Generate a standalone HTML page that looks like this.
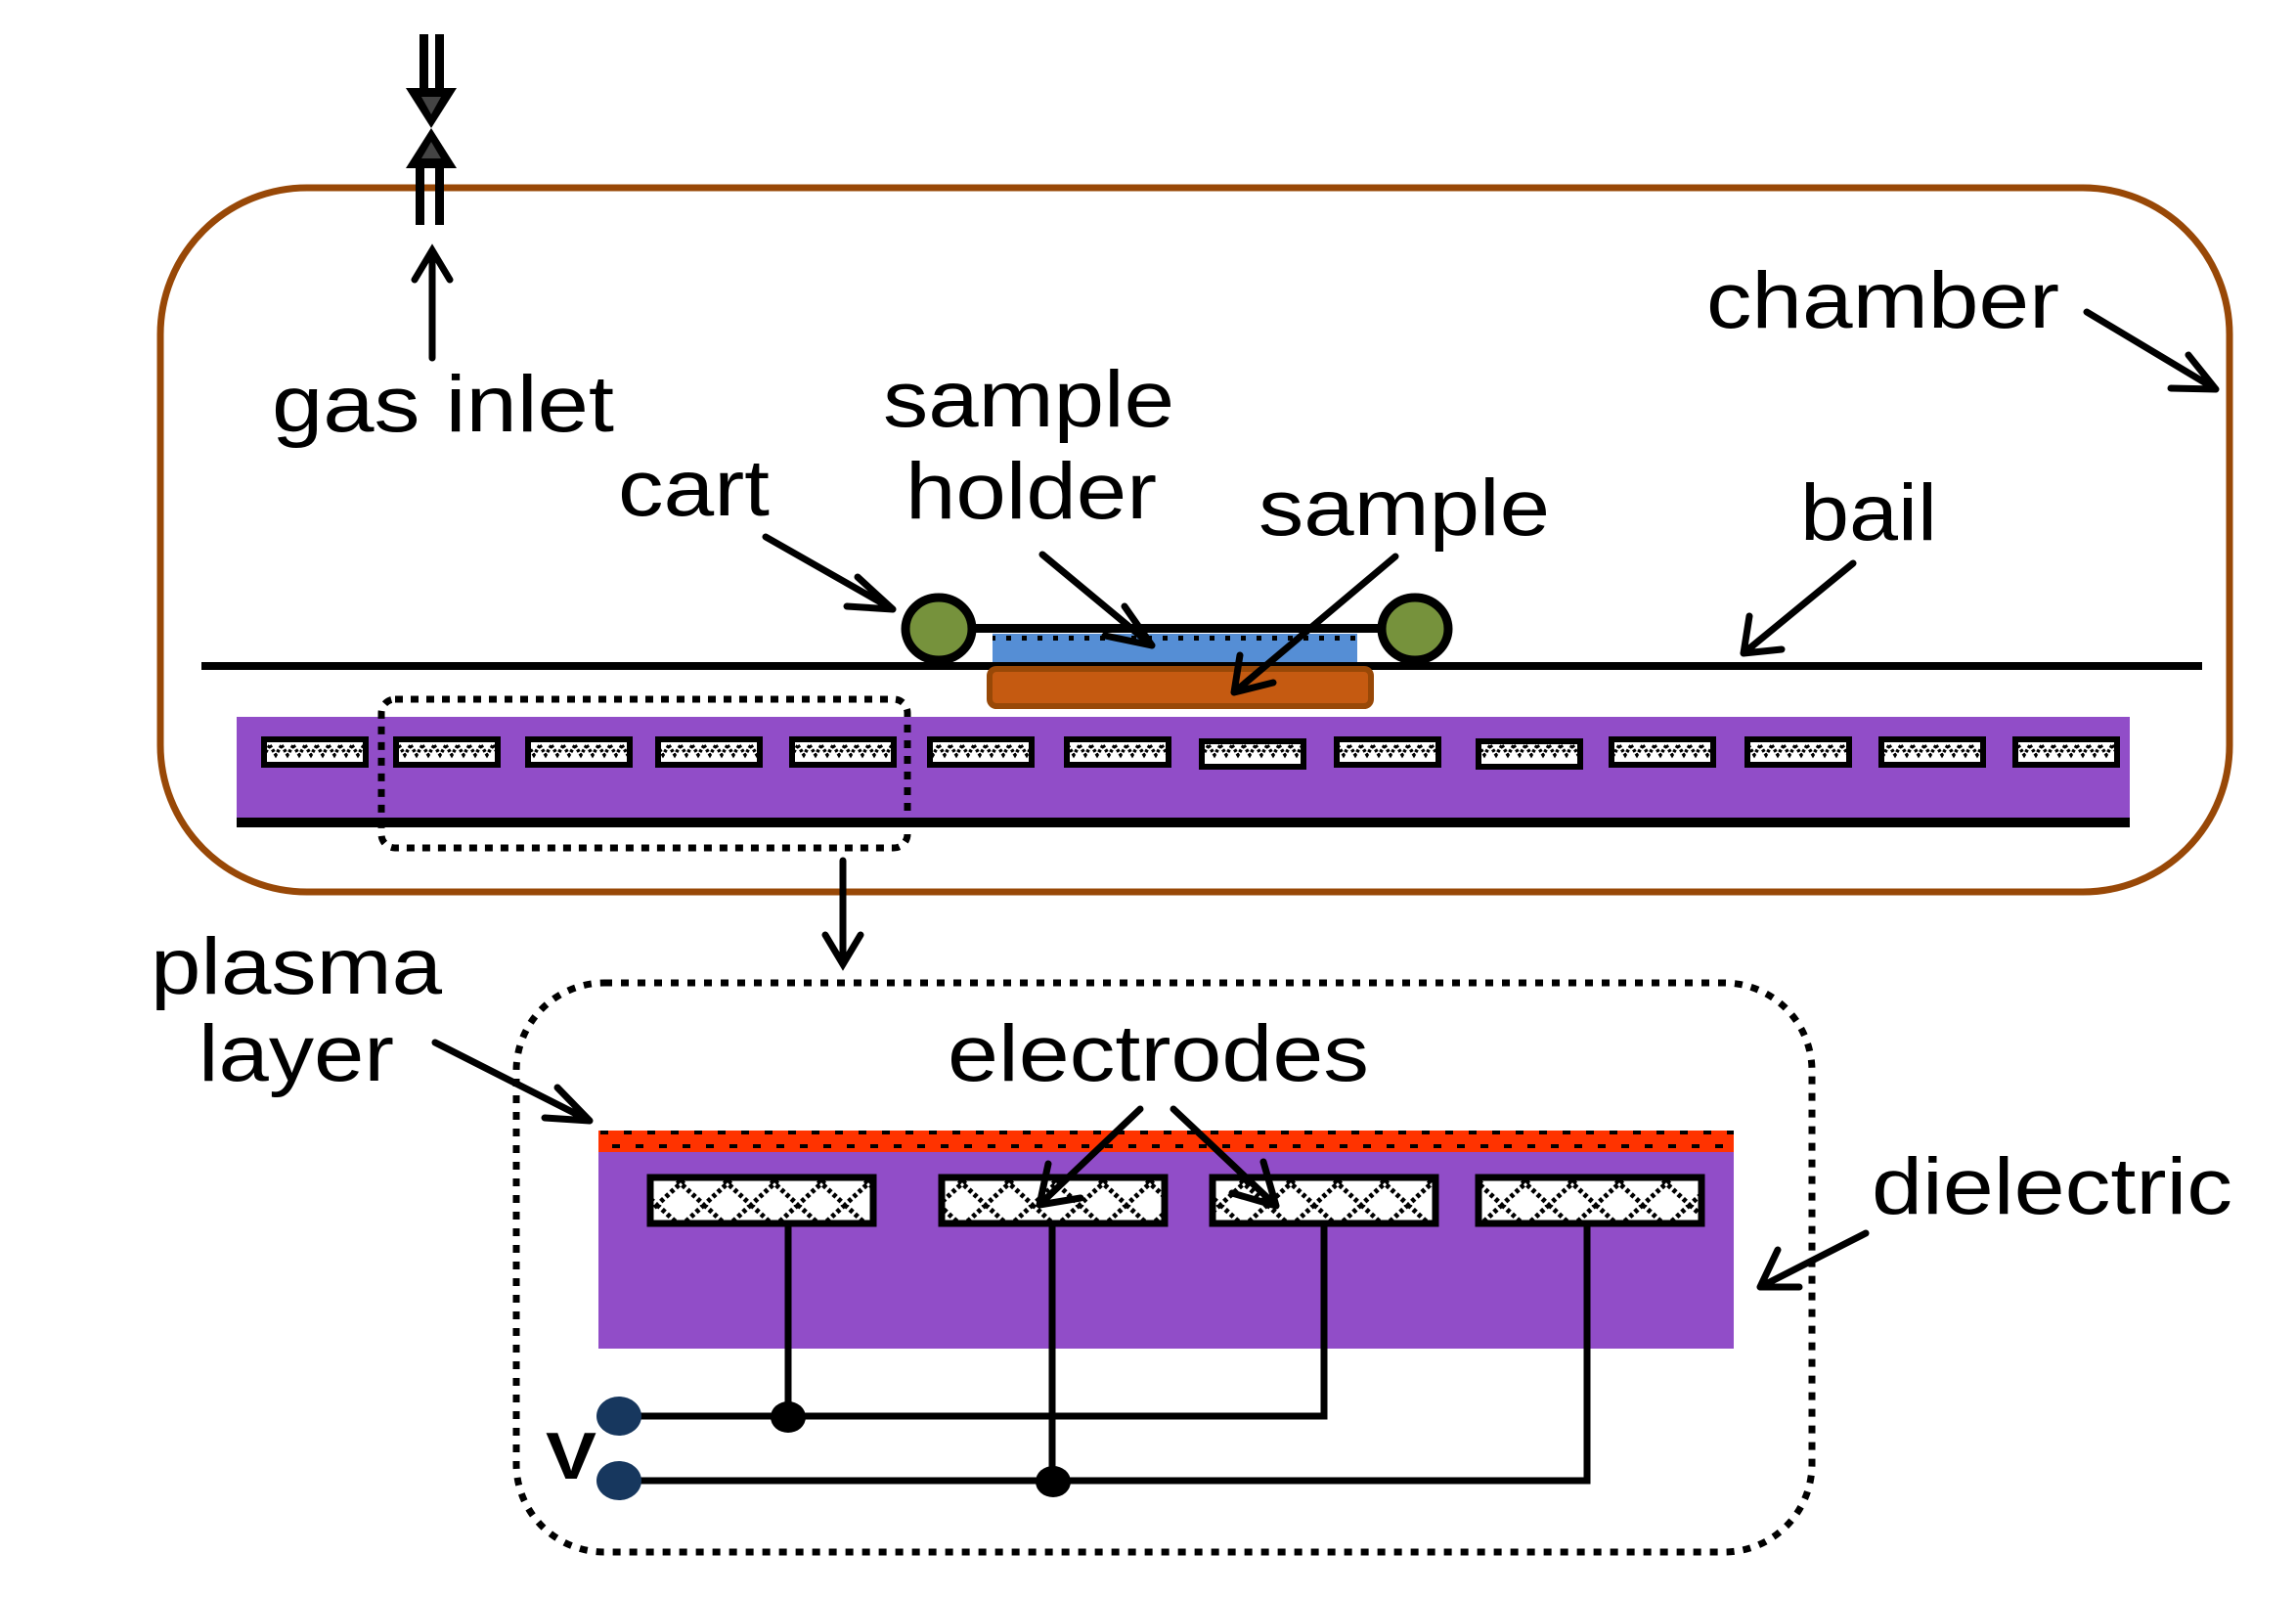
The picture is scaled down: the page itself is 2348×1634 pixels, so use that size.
<!DOCTYPE html>
<html><head><meta charset="utf-8"><style>
html,body{margin:0;padding:0;background:#fff;}
svg{display:block;}
text{font-family:"Liberation Sans",sans-serif;fill:#000;}
</style></head><body>
<svg width="2348" height="1634" viewBox="0 0 2348 1634" xmlns="http://www.w3.org/2000/svg">
<defs>
<pattern id="hs" width="24" height="20" patternUnits="userSpaceOnUse">
<rect width="24" height="20" fill="#fff"/>
<path d="M0 2 L6 12 L12 2 M12 2 L18 12 L24 2" stroke="#000" stroke-width="3.5" fill="none" stroke-dasharray="3 2"/>
</pattern>
<pattern id="hb" width="48" height="44" patternUnits="userSpaceOnUse">
<rect width="48" height="44" fill="#fff"/>
<path d="M0 0 L48 44 M48 0 L0 44" stroke="#000" stroke-width="5" fill="none" stroke-dasharray="4 3"/>
</pattern>
<pattern id="red" width="48" height="22" patternUnits="userSpaceOnUse">
<rect width="48" height="22" fill="#ff3300"/>
<rect x="2" y="4" width="8" height="4" fill="#000"/><rect x="26" y="4" width="8" height="4" fill="#000"/>
<rect x="14" y="12" width="8" height="4" fill="#000"/><rect x="38" y="12" width="8" height="4" fill="#000"/>
</pattern>
<pattern id="blu" width="16" height="29" patternUnits="userSpaceOnUse">
<rect width="16" height="29" fill="#558ed5"/>
<rect x="5" y="12" width="5" height="5" fill="#000"/>
</pattern>
</defs>

<!-- chamber -->
<rect x="164" y="192" width="2116" height="720" rx="150" ry="150" fill="none" stroke="#984807" stroke-width="7"/>

<!-- gas inlet -->
<rect x="429" y="35" width="9" height="55" fill="#000"/>
<rect x="445" y="35" width="9" height="55" fill="#000"/>
<rect x="425" y="172" width="9" height="58" fill="#000"/>
<rect x="445" y="172" width="9" height="58" fill="#000"/>
<polygon points="415,90 467,90 441,131" fill="#000"/>
<polygon points="431,99 451,99 441,117" fill="#444"/>
<polygon points="441,131 415,172 467,172" fill="#000"/>
<polygon points="441,145 431,162 451,162" fill="#444"/>

<!-- bail line -->
<rect x="206" y="677" width="2046" height="8" fill="#000"/>

<!-- cart -->
<rect x="990" y="638" width="440" height="9" fill="#000"/>
<rect x="1015" y="648" width="373" height="29" fill="url(#blu)"/>
<rect x="1012" y="684" width="390" height="38" rx="7" fill="#c55a11" stroke="#984807" stroke-width="6"/>
<ellipse cx="960" cy="643" rx="34" ry="32" fill="#76923c" stroke="#000" stroke-width="9"/>
<ellipse cx="1447" cy="643" rx="34" ry="32" fill="#76923c" stroke="#000" stroke-width="9"/>

<!-- dielectric bar -->
<rect x="242" y="733" width="1936" height="104" fill="#914dc8"/>
<rect x="242" y="836" width="1936" height="10" fill="#000"/>
<g fill="url(#hs)" stroke="#000" stroke-width="6">
<rect x="270" y="756" width="104" height="26"/>
<rect x="405" y="756" width="104" height="26"/>
<rect x="540" y="756" width="104" height="26"/>
<rect x="673" y="756" width="104" height="26"/>
<rect x="810" y="756" width="104" height="26"/>
<rect x="951" y="756" width="104" height="26"/>
<rect x="1091" y="756" width="104" height="26"/>
<rect x="1229" y="758" width="104" height="26"/>
<rect x="1367" y="756" width="104" height="26"/>
<rect x="1512" y="758" width="104" height="26"/>
<rect x="1648" y="756" width="104" height="26"/>
<rect x="1787" y="756" width="104" height="26"/>
<rect x="1924" y="756" width="104" height="26"/>
<rect x="2061" y="756" width="104" height="26"/>
</g>

<!-- dotted zoom box -->
<rect x="390" y="715" width="538" height="152" rx="14" fill="none" stroke="#000" stroke-width="7" stroke-dasharray="8 8"/>

<!-- bottom detail box -->
<rect x="528" y="1005" width="1325" height="582" rx="90" fill="none" stroke="#000" stroke-width="7" stroke-dasharray="8 9"/>
<rect x="612" y="1156" width="1161" height="22" fill="url(#red)"/>
<rect x="612" y="1178" width="1161" height="201" fill="#914dc8"/>
<g fill="url(#hb)" stroke="#000" stroke-width="7">
<rect x="665" y="1204" width="228" height="47"/>
<rect x="963" y="1204" width="228" height="47"/>
<rect x="1240" y="1204" width="228" height="47"/>
<rect x="1512" y="1204" width="228" height="47"/>
</g>
<g stroke="#000" stroke-width="7" fill="none">
<path d="M806 1254 V1448 M633 1448 H1354 V1254"/>
<path d="M1076 1254 V1514 M633 1514 H1623 V1254"/>
</g>
<ellipse cx="806" cy="1449" rx="18" ry="16" fill="#000"/>
<ellipse cx="1077" cy="1515" rx="18" ry="16" fill="#000"/>
<ellipse cx="633" cy="1448" rx="23" ry="20" fill="#17375e"/>
<ellipse cx="633" cy="1514" rx="23" ry="20" fill="#17375e"/>

<!-- arrows (on top) -->
<g stroke="#000" stroke-width="7" fill="none" stroke-linecap="round" stroke-linejoin="miter">
<path d="M442 366 L442 256 M424 286 L442 256 L460 286"/>
<path d="M783 549 L913 623 M877 590 L913 623 M866 620 L913 623"/>
<path d="M1066 567 L1178 660 M1130 650 L1178 660 M1150 620 L1178 660"/>
<path d="M1427 569 L1262 708 M1268 670 L1262 708 M1302 698 L1262 708"/>
<path d="M1895 576 L1783 668 M1789 630 L1783 668 M1822 664 L1783 668"/>
<path d="M2134 319 L2266 398 M2238 363 L2266 398 M2220 397 L2266 398"/>
<path d="M862 880 L862 986 M844 956 L862 986 L880 956"/>
<path d="M445 1066 L603 1146 M570 1112 L603 1146 M557 1143 L603 1146"/>
<path d="M1166 1134 L1063 1232 M1072 1190 L1063 1232 M1105 1225 L1063 1232"/>
<path d="M1200 1134 L1305 1233 M1292 1188 L1305 1233 M1260 1220 L1305 1233"/>
<path d="M1908 1261 L1800 1316 M1818 1278 L1800 1316 M1840 1316 L1800 1316"/>
</g>

<!-- labels -->
<text x="278" y="441" font-size="82" textLength="350" lengthAdjust="spacingAndGlyphs">gas inlet</text>
<text x="903" y="436" font-size="82" textLength="298" lengthAdjust="spacingAndGlyphs">sample</text>
<text x="926" y="530" font-size="82" textLength="257" lengthAdjust="spacingAndGlyphs">holder</text>
<text x="632" y="527" font-size="82" textLength="155" lengthAdjust="spacingAndGlyphs">cart</text>
<text x="1287" y="547" font-size="82" textLength="298" lengthAdjust="spacingAndGlyphs">sample</text>
<text x="1841" y="552" font-size="82" textLength="140" lengthAdjust="spacingAndGlyphs">bail</text>
<text x="1745" y="335" font-size="82" textLength="361" lengthAdjust="spacingAndGlyphs">chamber</text>
<text x="154" y="1016" font-size="82" textLength="298" lengthAdjust="spacingAndGlyphs">plasma</text>
<text x="203" y="1105" font-size="82" textLength="200" lengthAdjust="spacingAndGlyphs">layer</text>
<text x="969" y="1105" font-size="82" textLength="431" lengthAdjust="spacingAndGlyphs">electrodes</text>
<text x="1914" y="1241" font-size="82" textLength="369" lengthAdjust="spacingAndGlyphs">dielectric</text>
<text x="558" y="1512" font-size="68" font-weight="bold" textLength="52" lengthAdjust="spacingAndGlyphs">V</text>
</svg>
</body></html>
